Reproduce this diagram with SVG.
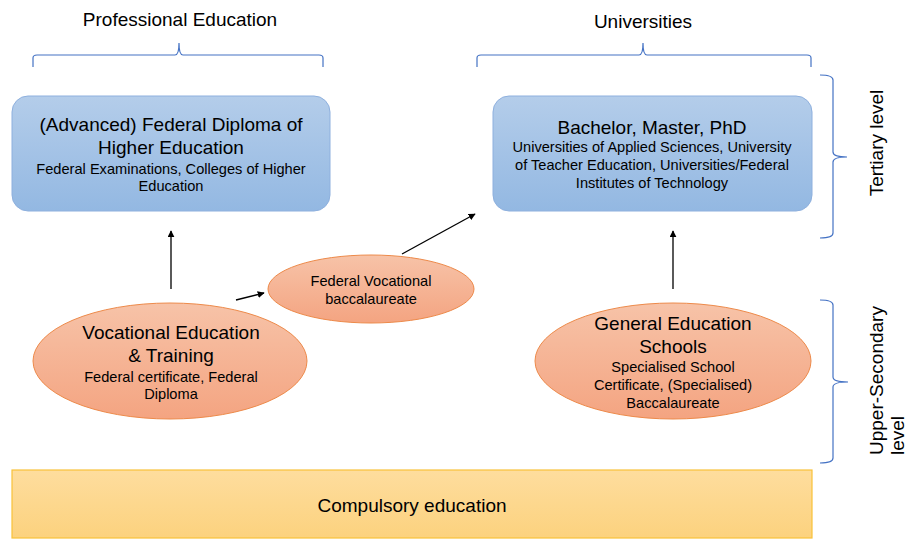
<svg xmlns="http://www.w3.org/2000/svg" width="909" height="539" viewBox="0 0 909 539">
  <defs>
    <linearGradient id="gBlue" x1="0" y1="0" x2="0" y2="1">
      <stop offset="0" stop-color="#B4CDEA"/>
      <stop offset="1" stop-color="#93B8E2"/>
    </linearGradient>
    <linearGradient id="gOrange" x1="0" y1="0" x2="0" y2="1">
      <stop offset="0" stop-color="#F7C3A8"/>
      <stop offset="1" stop-color="#F4A481"/>
    </linearGradient>
    <linearGradient id="gGold" x1="0" y1="0" x2="0" y2="1">
      <stop offset="0" stop-color="#FEDD9E"/>
      <stop offset="1" stop-color="#FCD27E"/>
    </linearGradient>
    <marker id="arrow" viewBox="0 0 10 10" refX="9" refY="5" markerWidth="7" markerHeight="7" markerUnits="userSpaceOnUse" orient="auto">
      <path d="M0,0 L10,5 L0,10 z" fill="#000"/>
    </marker>
  </defs>
  <style>
    text { font-family: "Liberation Sans", Arial, sans-serif; fill: #000; }
    .big { font-size: 19px; }
    .small { font-size: 14.6px; }
    .title { font-size: 19px; }
    .mid { text-anchor: middle; }
    .box { fill: url(#gBlue); stroke: #8EB0DE; stroke-width: 1; }
    .oval { fill: url(#gOrange); stroke: #ED8A4A; stroke-width: 1; }
    .brace { fill: none; stroke: #4472C4; stroke-width: 1.2; }
    .link { stroke: #000; stroke-width: 1.3; fill: none; marker-end: url(#arrow); }
  </style>
  <rect width="909" height="539" fill="#fff"/>

  <!-- group labels and braces -->
  <g id="professional-label">
    <text class="title mid" x="180" y="26">Professional Education</text>
    <path class="brace" d="M33,67 L33,58 Q33,55 37,55 L175,55 Q179,55 179,43 Q179,55 183,55 L319,55 Q323,55 323,58 L323,67"/>
  </g>
  <g id="universities-label">
    <text class="title mid" x="643" y="28">Universities</text>
    <path class="brace" d="M477,67 L477,58 Q477,55 481,55 L639,55 Q643,55 643,43 Q643,55 647,55 L807,55 Q811,55 811,58 L811,67"/>
  </g>
  <g id="tertiary-label">
    <path class="brace" d="M820,75 Q833,75 833,80 L833,152 Q833,157 847,157 Q833,157 833,162 L833,233 Q833,238 820,238"/>
    <text class="title mid" transform="translate(883,143) rotate(-90)">Tertiary level</text>
  </g>
  <g id="upper-secondary-label">
    <path class="brace" d="M820,300 Q833,300 833,305 L833,377 Q833,382 848,382 Q833,382 833,387 L833,458 Q833,463 820,463"/>
    <text class="title" transform="translate(883,455) rotate(-90)">Upper-Secondary</text>
    <text class="title" transform="translate(904,455) rotate(-90)">level</text>
  </g>

  <!-- tertiary nodes -->
  <g id="federal-diploma">
    <rect class="box" x="12" y="96" width="318" height="115" rx="16"/>
    <text class="big mid" x="171" y="131">(Advanced) Federal Diploma of</text>
    <text class="big mid" x="171" y="154">Higher Education</text>
    <text class="small mid" x="171" y="174">Federal Examinations, Colleges of Higher</text>
    <text class="small mid" x="171" y="191">Education</text>
  </g>
  <g id="universities">
    <rect class="box" x="493" y="96" width="319" height="115" rx="16"/>
    <text class="big mid" x="652" y="134">Bachelor, Master, PhD</text>
    <text class="small mid" x="652" y="152">Universities of Applied Sciences, University</text>
    <text class="small mid" x="652" y="170">of Teacher Education, Universities/Federal</text>
    <text class="small mid" x="652" y="188">Institutes of Technology</text>
  </g>

  <!-- upper-secondary nodes -->
  <g id="vocational-baccalaureate">
    <ellipse class="oval" cx="371" cy="289" rx="103" ry="34"/>
    <text class="small mid" x="371" y="286">Federal Vocational</text>
    <text class="small mid" x="371" y="304">baccalaureate</text>
  </g>
  <g id="vocational-training">
    <ellipse class="oval" cx="170" cy="361" rx="137" ry="58"/>
    <text class="big mid" x="171" y="339">Vocational Education</text>
    <text class="big mid" x="171" y="362">&amp; Training</text>
    <text class="small mid" x="171" y="382">Federal certificate, Federal</text>
    <text class="small mid" x="171" y="399">Diploma</text>
  </g>
  <g id="general-education">
    <ellipse class="oval" cx="673" cy="361" rx="138" ry="58"/>
    <text class="big mid" x="673" y="330">General Education</text>
    <text class="big mid" x="673" y="353">Schools</text>
    <text class="small mid" x="673" y="372">Specialised School</text>
    <text class="small mid" x="673" y="390">Certificate, (Specialised)</text>
    <text class="small mid" x="673" y="408">Baccalaureate</text>
  </g>

  <!-- base level -->
  <g id="compulsory-education">
    <rect x="12" y="470" width="800" height="68" fill="url(#gGold)" stroke="#F8C23A" stroke-width="1.2"/>
    <text class="big mid" x="412" y="512">Compulsory education</text>
  </g>

  <!-- connectors -->
  <g id="connectors">
    <line class="link" x1="171" y1="289" x2="171" y2="231"/>
    <line class="link" x1="236" y1="300" x2="264" y2="293"/>
    <line class="link" x1="402" y1="254" x2="475" y2="214"/>
    <line class="link" x1="673" y1="289" x2="673" y2="231"/>
  </g>
</svg>
